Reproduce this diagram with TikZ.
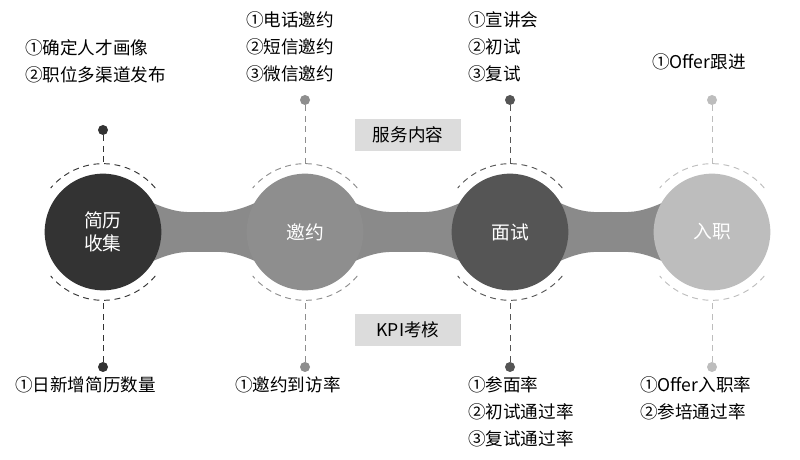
\documentclass[tikz,border=0pt]{standalone}
\usepackage{fontspec}
\setmainfont{Noto Sans CJK SC}
\usepackage{tikz}
\definecolor{darkc}{HTML}{333333}
\definecolor{midc}{HTML}{8E8E8E}
\definecolor{deepc}{HTML}{555555}
\definecolor{lightc}{HTML}{BDBDBD}
\definecolor{bandc}{HTML}{8A8A8A}
\definecolor{tagc}{HTML}{DCDCDC}

\begin{document}
\begin{tikzpicture}[x=0.03cm,y=-0.03cm,
		stage/.style={circle, minimum size=3.5cm, inner sep=0pt, text=white, font=\fontsize{16}{20}\selectfont, align=center},
		info/.style={anchor=west, align=left, font=\fontsize{15}{23}\selectfont, inner sep=0pt},
		tag/.style={rectangle, fill=tagc, minimum width=3.2cm, minimum height=0.95cm, font=\fontsize{15}{17}\selectfont},
		dot/.style={circle, minimum size=0.3cm, inner sep=0pt},
		guide/.style={thick, dash pattern=on 5pt off 4pt}
	]
		\useasboundingbox (0,0) rectangle (800,460);

		% Bands between stages
		\foreach \a/\b in {103/305, 305/510, 510/712}{
			\fill[bandc] (\a+50,203) .. controls (\a+75,214) and (\a+85,212) .. ({(\a+\b)/2},212)
				.. controls (\b-85,212) and (\b-75,214) .. (\b-50,203)
				-- (\b-50,261) .. controls (\b-75,250) and (\b-85,252) .. ({(\a+\b)/2},252)
				.. controls (\a+85,252) and (\a+75,250) .. (\a+50,261) -- cycle;
		}

		% Stages
		\node[stage, fill=darkc] (resume) at (103,232) {简历\\收集};
		\node[stage, fill=midc] (invite) at (305,232) {邀约};
		\node[stage, fill=deepc] (interview) at (510,232) {面试};
		\node[stage, fill=lightc] (onboard) at (712,232) {入职};

		% Dashed arcs
		\foreach \s/\c in {resume/darkc, invite/midc, interview/deepc, onboard/lightc}{
			\draw[guide, \c] ([shift={(40:2.05cm)}]\s.center) arc[start angle=40, end angle=140, radius=2.05cm];
			\draw[guide, \c] ([shift={(-40:2.05cm)}]\s.center) arc[start angle=-40, end angle=-140, radius=2.05cm];
			\coordinate (\s-top) at ([yshift=2.05cm]\s.center);
			\coordinate (\s-bot) at ([yshift=-2.05cm]\s.center);
		}

		% Dots and guide lines
		\node[dot, fill=darkc] (resume-up) at (103,130) {};
		\node[dot, fill=midc] (invite-up) at (305,100) {};
		\node[dot, fill=deepc] (interview-up) at (510,100) {};
		\node[dot, fill=lightc] (onboard-up) at (712,100) {};
		\node[dot, fill=darkc] (resume-down) at (103,367) {};
		\node[dot, fill=midc] (invite-down) at (305,367) {};
		\node[dot, fill=deepc] (interview-down) at (510,367) {};
		\node[dot, fill=lightc] (onboard-down) at (712,367) {};
		\draw[guide, darkc] (resume-up) -- (resume-top);
		\draw[guide, midc] (invite-up) -- (invite-top);
		\draw[guide, deepc] (interview-up) -- (interview-top);
		\draw[guide, lightc] (onboard-up) -- (onboard-top);
		\draw[guide, darkc] (resume-down) -- (resume-bot);
		\draw[guide, midc] (invite-down) -- (invite-bot);
		\draw[guide, deepc] (interview-down) -- (interview-bot);
		\draw[guide, lightc] (onboard-down) -- (onboard-bot);

		% Service content
		\node[info] (resume-svc) at (25,61) {①确定人才画像\\②职位多渠道发布};
		\node[info] (invite-svc) at (246,47) {①电话邀约\\②短信邀约\\③微信邀约};
		\node[info] (interview-svc) at (468,47) {①宣讲会\\②初试\\③复试};
		\node[info] (onboard-svc) at (652,62) {①Offer跟进};

		% KPI
		\node[info] (resume-kpi) at (15,385) {①日新增简历数量};
		\node[info] (invite-kpi) at (235,385) {①邀约到访率};
		\node[info] (interview-kpi) at (468,412) {①参面率\\②初试通过率\\③复试通过率};
		\node[info] (onboard-kpi) at (640,398) {①Offer入职率\\②参培通过率};

		% Tags
		\node[tag] (svc) at (408,135) {服务内容};
		\node[tag] (kpi) at (408,330) {KPI考核};
	\end{tikzpicture}
\end{document}
